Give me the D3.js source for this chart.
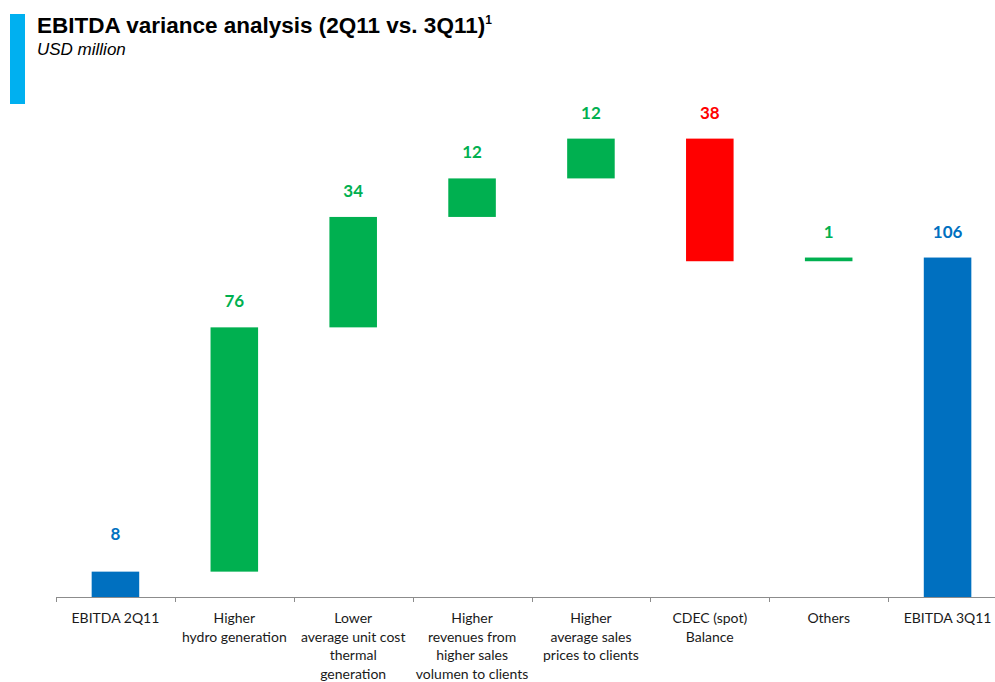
<!DOCTYPE html>
<html>
<head>
<meta charset="utf-8">
<script src="https://cdn.jsdelivr.net/npm/d3@7"></script>
<style>
  body { margin: 0; background: #fff; }
</style>
</head>
<body>
<div id="chart"></div>
<script>
// categories (lines of each axis label)
var categories = [
  ["EBITDA 2Q11"],
  ["Higher", "hydro generation"],
  ["Lower", "average unit cost", "thermal", "generation"],
  ["Higher", "revenues from", "higher sales", "volumen to clients"],
  ["Higher", "average sales", "prices to clients"],
  ["CDEC (spot)", "Balance"],
  ["Others"],
  ["EBITDA 3Q11"]
];
var startValue = 7.9;
var deltas = [76.1, 34.4, 12.0, 12.4, -38.2, 1.15];
var valueLabels = ["8", "76", "34", "12", "12", "38", "1", "106"];

var colorTotal = "#0070c0",
    colorUp = "#00b050",
    colorDown = "#ff0000";

var width = 995, height = 682;

var svg = d3.select("#chart").append("svg")
  .attr("width", width)
  .attr("height", height);

// title block
svg.append("rect")
  .attr("x", 10).attr("y", 14)
  .attr("width", 15).attr("height", 90)
  .attr("fill", "#00b0f0");

var title = svg.append("text")
  .attr("x", 37).attr("y", 33)
  .style("font-family", "Liberation Sans, Arial, sans-serif")
  .style("font-weight", "bold")
  .style("font-size", "22.5px")
  .attr("fill", "#000")
  .text("EBITDA variance analysis (2Q11 vs. 3Q11)");
title.append("tspan")
  .attr("dy", -9)
  .style("font-size", "12px")
  .text("1");

svg.append("text")
  .attr("x", 37).attr("y", 55)
  .style("font-family", "Liberation Sans, Arial, sans-serif")
  .style("font-style", "italic")
  .style("font-size", "17px")
  .attr("fill", "#000")
  .text("USD million");

// build waterfall steps
var steps = [];
var run = startValue;
steps.push({y0: 0, y1: startValue, type: "total"});
deltas.forEach(function(d) {
  steps.push({y0: run, y1: run + d, type: d >= 0 ? "up" : "down"});
  run += d;
});
steps.push({y0: 0, y1: run, type: "total"});

var x = d3.scaleBand()
  .domain(d3.range(categories.length))
  .range([56, 1007])
  .paddingInner(0.6)
  .paddingOuter(0.3);

var y = d3.scaleLinear()
  .domain([0, 150])
  .range([597, 115.5]);

var fill = function(t) {
  return t == "total" ? colorTotal : (t == "up" ? colorUp : colorDown);
};

svg.selectAll(".bar")
  .data(steps)
  .enter().append("rect")
  .attr("class", "bar")
  .attr("x", function(d, i) { return x(i); })
  .attr("width", x.bandwidth())
  .attr("y", function(d) { return y(Math.max(d.y0, d.y1)); })
  .attr("height", function(d) { return Math.abs(y(d.y0) - y(d.y1)); })
  .attr("fill", function(d) { return fill(d.type); });

// first label sits higher above its short bar in the original
svg.selectAll(".vlabel")
  .data(steps)
  .enter().append("text")
  .attr("class", "vlabel")
  .attr("x", function(d, i) { return x(i) + x.bandwidth() / 2; })
  .attr("y", function(d, i) { return y(Math.max(d.y0, d.y1)) - (i == 0 ? 32 : 20); })
  .attr("text-anchor", "middle")
  .style("font-family", "Lato, sans-serif")
  .style("font-weight", "bold")
  .style("font-size", "17px")
  .attr("fill", function(d) { return fill(d.type); })
  .text(function(d, i) { return valueLabels[i]; });

// axis line + ticks at category boundaries
var axisG = svg.append("g");
axisG.append("line")
  .attr("x1", 56).attr("x2", 1007)
  .attr("y1", 597.5).attr("y2", 597.5)
  .attr("stroke", "#8c8c8c").attr("stroke-width", 1);

axisG.selectAll(".tick")
  .data(d3.range(categories.length + 1))
  .enter().append("line")
  .attr("x1", function(i) { return Math.round(56 + i * x.step()) + 0.5; })
  .attr("x2", function(i) { return Math.round(56 + i * x.step()) + 0.5; })
  .attr("y1", 597.5).attr("y2", 602)
  .attr("stroke", "#8c8c8c");

var lbl = svg.selectAll(".xlabel")
  .data(categories)
  .enter().append("text")
  .attr("class", "xlabel")
  .attr("text-anchor", "middle")
  .style("font-family", "Lato, sans-serif")
  .style("font-size", "14px")
  .attr("fill", "#1a1a1a");

lbl.each(function(lines, i) {
  var t = d3.select(this);
  lines.forEach(function(s, k) {
    t.append("tspan")
      .attr("x", x(i) + x.bandwidth() / 2)
      .attr("y", 623 + k * 18.7)
      .text(s);
  });
});
</script>
</body>
</html>
